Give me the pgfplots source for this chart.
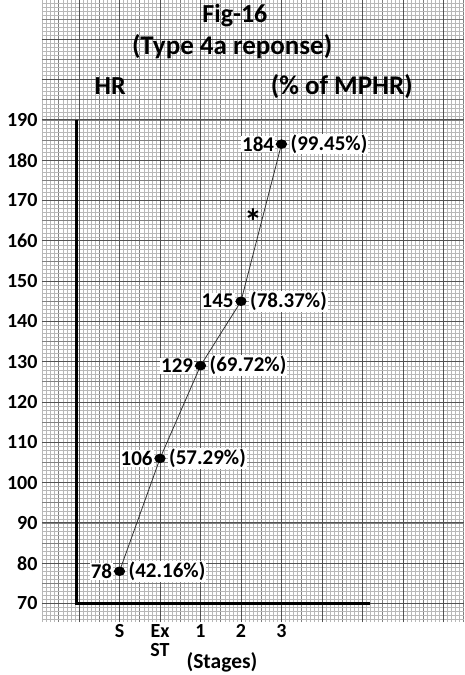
\documentclass[border=0pt]{standalone}
\usepackage{fontspec}
\setmainfont{Carlito}
\usepackage{pgfplots}
\pgfplotsset{compat=1.18}

\definecolor{gridfine}{gray}{0.72}
\definecolor{gridmid}{gray}{0.50}
\definecolor{gridmaj}{gray}{0.32}

\newcommand{\lblfont}{\fontsize{20}{19}\selectfont\bfseries}
\newcommand{\ptfont}{\fontsize{21}{21}\selectfont\bfseries}

\pgfplotsset{
  paper/.style={
    scale only axis, width=422pt, height=622pt,
    at={(42pt,53pt)}, anchor=south west,
    xmin=-0.914, xmax=9.506, ymin=65.41, ymax=219.75,
    axis line style={draw=none}, tick style={draw=none},
  },
}

\begin{document}
\begin{tikzpicture}
\useasboundingbox (0,0) rectangle (464pt,675pt);

% graph paper: fine and medium lines
\begin{axis}[paper,
  xtick={-1,-0.5,...,10}, minor x tick num=4,
  ytick={65,70,...,220}, minor y tick num=4,
  xticklabels={}, yticklabels={},
  grid=both,
  minor grid style={gridfine, line width=0.45pt},
  major grid style={gridmid, line width=0.7pt},
]
\end{axis}

% heavy lines, labels and data
\begin{axis}[paper, clip=false,
  xtick={0,...,9},
  xticklabels={,S,Ex\\ST,1,2,3,,,,},
  ytick={70,80,...,210},
  yticklabels={70,80,90,100,110,120,130,140,150,160,170,180,190,,},
  x tick label style={font=\lblfont, align=center, yshift=1pt},
  y tick label style={font=\lblfont, xshift=-1pt},
  grid=major,
  major grid style={gridmaj, line width=0.9pt},
]
\addplot[black, line width=3pt, line join=miter] coordinates {(-0.05,190) (-0.05,70) (7.19,70)};

\addplot[black!80, line width=0.8pt, mark=*, mark size=4.3pt,
  mark options={xscale=1.2, fill=black, draw=black},
  point meta=explicit symbolic, nodes near coords,
  nodes near coords style={anchor=east, font=\ptfont, text=black, fill=white, inner sep=1pt, xshift=-6pt}]
  coordinates {(1,78) [78] (2,106) [106] (3,129) [129] (4,145) [145] (5,184) [184]};

\addplot[draw=none, mark=none,
  point meta=explicit symbolic, nodes near coords,
  nodes near coords style={anchor=west, font=\ptfont, text=black, fill=white, inner sep=1pt, xshift=8pt}]
  coordinates {(1,78) [{(42.16\%)}] (2,106) [{(57.29\%)}] (3,129) [{(69.72\%)}]
               (4,145) [{(78.37\%)}] (5,184) [{(99.45\%)}]};

\node[font=\fontsize{26}{26}\selectfont\bfseries] at (axis cs:3.85,215.8) {Fig-16};
\node[font=\fontsize{27}{27}\selectfont\bfseries] at (axis cs:3.78,208.3) {(Type 4a reponse)};
\node[font=\fontsize{26}{26}\selectfont\bfseries] at (axis cs:0.77,198.4) {HR};
\node[font=\fontsize{27}{27}\selectfont\bfseries] at (axis cs:6.49,198.4) {(\% of MPHR)};
\node[font=\fontsize{21.5}{21.5}\selectfont\bfseries] at (axis cs:3.53,55.4) {(Stages)};
\node[font=\fontsize{36}{36}\selectfont\bfseries] at (axis cs:4.30,164.8) {*};
\end{axis}
\end{tikzpicture}
\end{document}
